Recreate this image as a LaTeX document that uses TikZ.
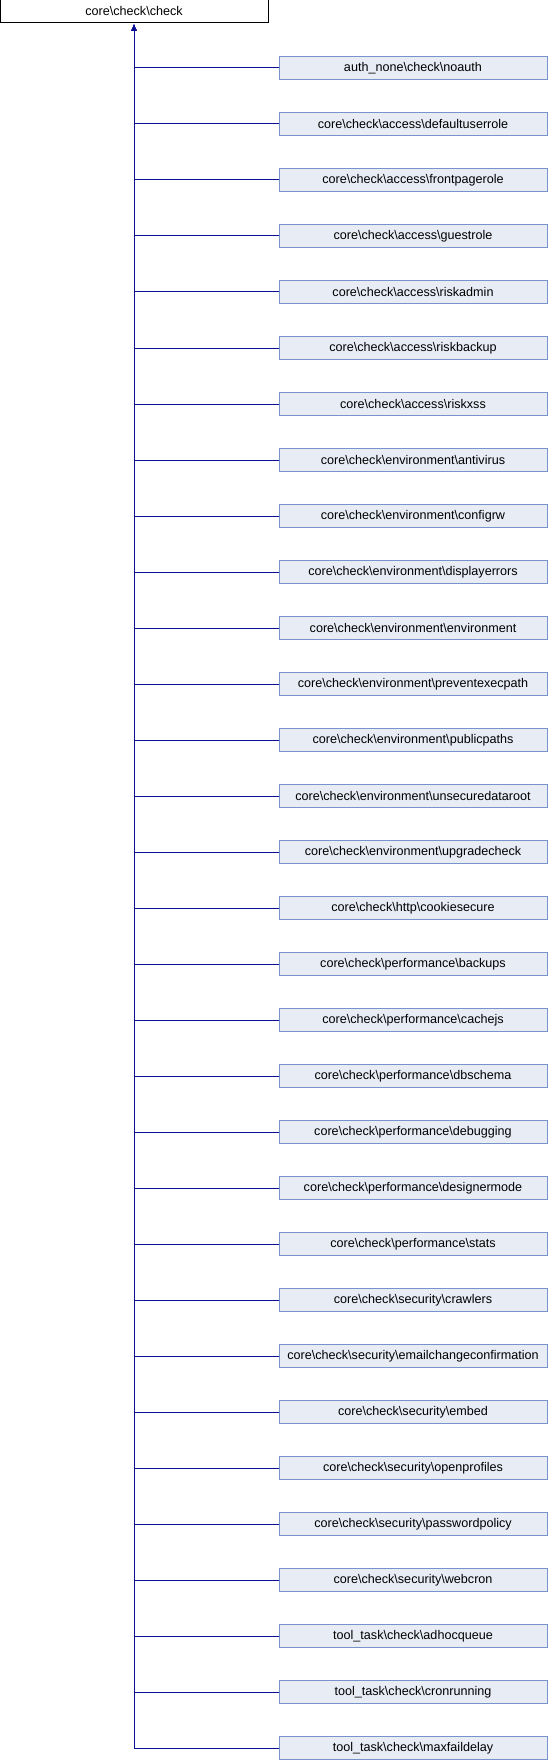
\documentclass[tikz,border=0pt]{standalone}
\usepackage{fontspec}
\setmainfont{Liberation Sans}
\usetikzlibrary{arrows.meta}
\definecolor{nodefill}{RGB}{232,236,245}
\definecolor{nodeborder}{RGB}{122,146,204}
\definecolor{edgecol}{RGB}{10,16,150}
\newcommand{\bs}{\textbackslash}
\tikzset{
  basebox/.style={draw, line width=1pt, minimum width=268pt, minimum height=23pt, inner sep=0pt, font=\fontsize{12.6}{15}\selectfont},
  parentbox/.style={basebox, fill=white, draw=black},
  childbox/.style={basebox, fill=nodefill, draw=nodeborder},
  edge/.style={draw=edgecol, line width=1pt, -{Latex[length=6pt,width=5pt]}}
}
\begin{document}
\begin{tikzpicture}[x=1pt,y=-1pt]
\useasboundingbox (0,0) rectangle (548,1760);
\node[parentbox] (top) at (134,11.5) {core\bs check\bs check};
\foreach [count=\i] \t in {
auth\_none\bs check\bs noauth,
core\bs check\bs access\bs defaultuserrole,
core\bs check\bs access\bs frontpagerole,
core\bs check\bs access\bs guestrole,
core\bs check\bs access\bs riskadmin,
core\bs check\bs access\bs riskbackup,
core\bs check\bs access\bs riskxss,
core\bs check\bs environment\bs antivirus,
core\bs check\bs environment\bs configrw,
core\bs check\bs environment\bs displayerrors,
core\bs check\bs environment\bs environment,
core\bs check\bs environment\bs preventexecpath,
core\bs check\bs environment\bs publicpaths,
core\bs check\bs environment\bs unsecuredataroot,
core\bs check\bs environment\bs upgradecheck,
core\bs check\bs http\bs cookiesecure,
core\bs check\bs performance\bs backups,
core\bs check\bs performance\bs cachejs,
core\bs check\bs performance\bs dbschema,
core\bs check\bs performance\bs debugging,
core\bs check\bs performance\bs designermode,
core\bs check\bs performance\bs stats,
core\bs check\bs security\bs crawlers,
core\bs check\bs security\bs emailchangeconfirmation,
core\bs check\bs security\bs embed,
core\bs check\bs security\bs openprofiles,
core\bs check\bs security\bs passwordpolicy,
core\bs check\bs security\bs webcron,
tool\_task\bs check\bs adhocqueue,
tool\_task\bs check\bs cronrunning,
tool\_task\bs check\bs maxfaildelay}
{
  \node[childbox] (c\i) at (413,{68+56*(\i-1)}) {\t};
  \draw[edge] (c\i.west) -| ([yshift=-1pt]top.south);
}
\end{tikzpicture}
\end{document}
